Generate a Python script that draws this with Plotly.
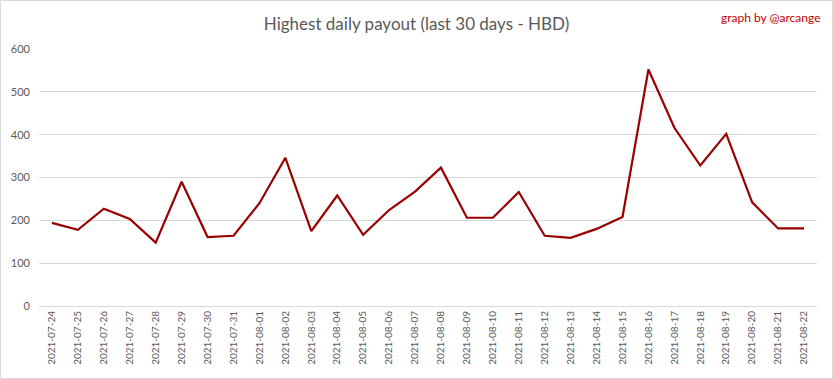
import plotly.graph_objects as go

dates = ["2021-07-24","2021-07-25","2021-07-26","2021-07-27","2021-07-28","2021-07-29","2021-07-30",
         "2021-07-31","2021-08-01","2021-08-02","2021-08-03","2021-08-04","2021-08-05","2021-08-06",
         "2021-08-07","2021-08-08","2021-08-09","2021-08-10","2021-08-11","2021-08-12","2021-08-13",
         "2021-08-14","2021-08-15","2021-08-16","2021-08-17","2021-08-18","2021-08-19","2021-08-20",
         "2021-08-21","2021-08-22"]
payout = [194, 178, 227, 203, 148, 290, 161, 164, 240, 346, 175, 258, 166, 224, 267, 323, 206, 206,
          266, 164, 159, 180, 208, 552, 416, 328, 402, 242, 181, 181]
y_ticks = [0, 100, 200, 300, 400, 500, 600]

W, H = 833, 379
L, R, T, B = 39, 16, 49, 73
pw, ph = W - L - R, H - T - B

fig = go.Figure()
fig.add_trace(go.Scatter(x=dates, y=payout, mode="lines",
                         line=dict(color="#990000", width=2.2), hoverinfo="x+y"))

fig.update_layout(
    width=W, height=H,
    margin=dict(l=L, r=R, t=T, b=B, autoexpand=False),
    paper_bgcolor="white", plot_bgcolor="white",
    font=dict(family="Lato, Open Sans, sans-serif", color="#595959"),
    showlegend=False,
    title=dict(text="Highest daily payout (last 30 days - HBD)", x=0.5, xanchor="center",
               y=1 - 24 / H, yanchor="middle", font=dict(size=17, color="#595959")),
    xaxis=dict(type="category", tickangle=-90, tickfont=dict(size=10, color="#595959"),
               showgrid=False, showline=True, linecolor="#d9d9d9", ticks="",
               range=[-0.5, len(dates) - 0.5], automargin=False),
    yaxis=dict(range=[0, 600], tickvals=y_ticks, gridcolor="#d9d9d9", gridwidth=1,
               tickfont=dict(size=11, color="#595959"), zeroline=False, ticks="",
               ticklabelstandoff=8, automargin=False),
    annotations=[dict(text="graph by @arcange", xref="paper", yref="paper",
                      x=(W - 10 - L) / pw, y=(H - B - 17) / ph, xanchor="right", yanchor="middle",
                      showarrow=False, font=dict(size=12, color="#c00000"))],
    shapes=[dict(type="rect", xref="paper", yref="paper",
                 x0=(0.5 - L) / pw, x1=(W - 0.5 - L) / pw,
                 y0=-(B - 0.5) / ph, y1=(H - B - 0.5) / ph,
                 line=dict(color="#d9d9d9", width=1), layer="above")],
)

fig.write_html("out.html", config={"displayModeBar": False},
               post_script="document.body.style.margin='0';")
